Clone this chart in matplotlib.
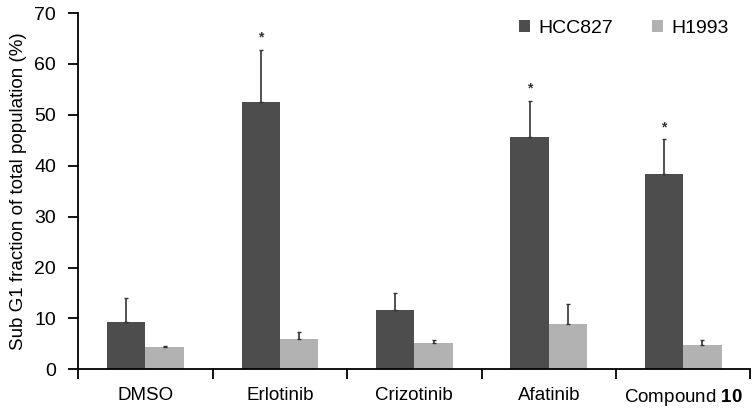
import numpy as np
import matplotlib
matplotlib.use('Agg')
import matplotlib.pyplot as plt

plt.rcParams['font.family'] = ['Liberation Sans', 'DejaVu Sans']
plt.rcParams['mathtext.fontset'] = 'custom'
plt.rcParams['mathtext.bf'] = 'Liberation Sans:bold'
plt.rcParams['mathtext.rm'] = 'Liberation Sans'

#values
categories = ['DMSO', 'Erlotinib', 'Crizotinib', 'Afatinib', 'Compound $\\mathbf{10}$']
hcc827 = [9.3, 52.5, 11.6, 45.7, 38.3]
hcc827_err = [4.8, 10.3, 3.4, 7.1, 6.9]
h1993 = [4.3, 6.0, 5.2, 8.9, 4.8]
h1993_err = [0.3, 1.3, 0.6, 4.0, 1.0]
significant = [False, True, False, True, True]

fig = plt.figure(figsize=(7.52, 4.09), dpi=100)
ax = fig.add_axes([0.104, 0.097, 0.894, 0.871])

x = np.arange(len(categories))
w = 0.285
dark = '#4d4d4d'
light = '#b2b2b2'

ax.bar(x - w / 2, hcc827, w, color=dark, label='HCC827',
       yerr=[np.zeros(len(x)), hcc827_err], ecolor='#333333',
       error_kw=dict(elinewidth=1.2, capsize=1.5, capthick=1))
ax.bar(x + w / 2, h1993, w, color=light, label='H1993',
       yerr=[np.zeros(len(x)), h1993_err], ecolor='#333333',
       error_kw=dict(elinewidth=1.2, capsize=1.5, capthick=1))

#asterisks above significant bars
for i, s in enumerate(significant):
    if s:
        ax.text(x[i] - w / 2, hcc827[i] + hcc827_err[i] + 1.0, '*',
                ha='center', va='bottom', fontsize=10, fontweight='bold',
                color='#333333')

ax.set_xlim(-0.5, len(categories) - 0.5)
ax.set_ylim(0, 70)
ax.set_yticks(range(0, 71, 10))
ax.set_xticks(np.arange(-0.5, len(categories), 1.0))
ax.set_xticklabels([])
ax.set_xticks(x, minor=True)
ax.set_xticklabels(categories, minor=True, fontsize=13.5)
ax.tick_params(axis='x', which='minor', length=0, pad=13)
ax.tick_params(axis='x', which='major', direction='out', length=7, width=1.3)
ax.tick_params(axis='y', direction='out', length=7, width=1.3, labelsize=14, pad=9)

for side in ['top', 'right']:
    ax.spines[side].set_visible(False)
for side in ['left', 'bottom']:
    ax.spines[side].set_linewidth(1.3)

ax.set_ylabel('Sub G1 fraction of total population (%)', fontsize=13.5, labelpad=5)

ax.legend(loc='upper right', ncol=2, frameon=False, fontsize=14,
          handlelength=0.55, handleheight=0.55, columnspacing=2.0,
          handletextpad=0.45, borderpad=0, borderaxespad=0,
          bbox_to_anchor=(0.968, 0.98))

fig.savefig('out.png', dpi=100)
